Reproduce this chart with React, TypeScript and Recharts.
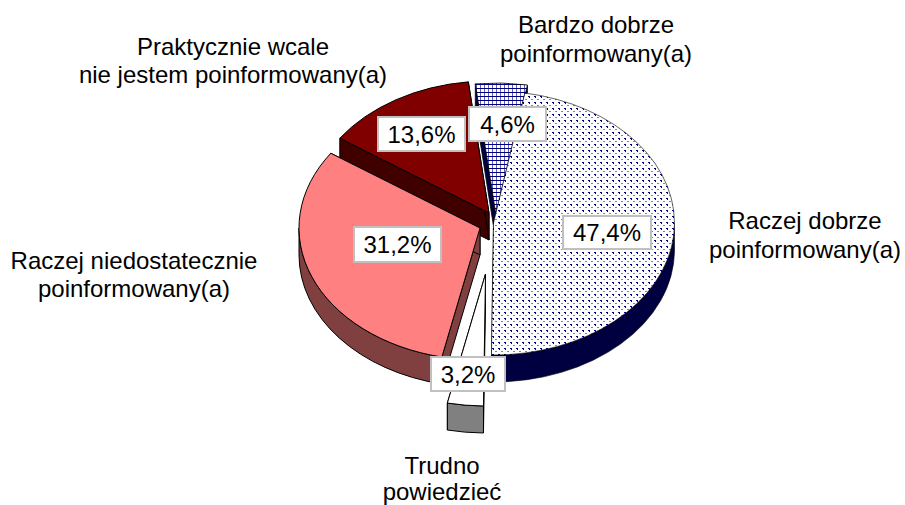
import React from "react";
import { PieChart, Pie } from "recharts";

const categories = [
  "Praktycznie wcale nie jestem poinformowany(a)",
  "Bardzo dobrze poinformowany(a)",
  "Raczej dobrze poinformowany(a)",
  "Trudno powiedzieć",
  "Raczej niedostatecznie poinformowany(a)",
];
const shares = [13.6, 4.6, 47.4, 3.2, 31.2];
const percentLabels = ["13,6%", "4,6%", "47,4%", "3,2%", "31,2%"];

const data = categories.map((name, i) => ({ name, value: shares[i], text: percentLabels[i] }));

const CX = 492;
const CY = 223;
const RX = 181;
const RY = 132;
const DEPTH = 27;
const START_DEG = 10;
const FONT = "'Liberation Sans', Arial, sans-serif";

// exploded slice offsets (px), and look, by data index
const LOOK = [
  { dx: -3, dy: -10, top: "#800000", side: "#400000", sw: 1 },
  { dx: 4, dy: -8, top: "url(#hatch)", side: "#000040", sw: 0.8 },
  { dx: 1.5, dy: 0, top: "url(#dots)", side: "#000040", sw: 0.6 },
  { dx: -6.5, dy: 51, top: "#ffffff", side: "#808080", sw: 1 },
  { dx: -12, dy: 5, top: "#ff8080", side: "#804040", sw: 1 },
];
const BOXES = [
  { x: 378, y: 117, w: 87, h: 34 },
  { x: 469, y: 107, w: 77, h: 34 },
  { x: 563, y: 216, w: 88, h: 33 },
  { x: 431, y: 357, w: 74, h: 34 },
  { x: 354, y: 227, w: 87, h: 35 },
];
const OUTER = [
  { x: 233, y: [55, 83], lines: ["Praktycznie wcale", "nie jestem poinformowany(a)"] },
  { x: 596, y: [33, 62], lines: ["Bardzo dobrze", "poinformowany(a)"] },
  { x: 805, y: [229, 258], lines: ["Raczej dobrze", "poinformowany(a)"] },
  { x: 442, y: [474, 500], lines: ["Trudno", "powiedzieć"] },
  { x: 134, y: [269, 297], lines: ["Raczej niedostatecznie", "poinformowany(a)"] },
];

const pt = (cx: number, cy: number, deg: number) => {
  const t = (deg * Math.PI) / 180;
  return [cx + RX * Math.sin(t), cy - RY * Math.cos(t)];
};

function Slice(props: any) {
  const { index, startAngle, endAngle } = props;
  const look = LOOK[index];
  const cx = CX + look.dx;
  const cy = CY + look.dy;
  // clockwise degrees from 12 o'clock
  const a1 = 90 - startAngle;
  const a2 = 90 - endAngle;
  const [x1, y1] = pt(cx, cy, a1);
  const [x2, y2] = pt(cx, cy, a2);
  const large = a2 - a1 > 180 ? 1 : 0;
  const top = `M${cx},${cy}L${x1},${y1}A${RX},${RY} 0 ${large} 1 ${x2},${y2}Z`;
  const faceA = `M${cx},${cy}L${x1},${y1}v${DEPTH}L${cx},${cy + DEPTH}Z`;
  const faceB = `M${cx},${cy}L${x2},${y2}v${DEPTH}L${cx},${cy + DEPTH}Z`;
  let wall: string | null = null;
  for (const shift of [0, 360]) {
    const w1 = Math.max(a1, 90 + shift);
    const w2 = Math.min(a2, 270 + shift);
    if (w2 > w1) {
      const [wx1, wy1] = pt(cx, cy, w1);
      const [wx2, wy2] = pt(cx, cy, w2);
      wall = `M${wx1},${wy1}A${RX},${RY} 0 0 1 ${wx2},${wy2}v${DEPTH}A${RX},${RY} 0 0 0 ${wx1},${wy1 + DEPTH}Z`;
    }
  }
  const edge = { stroke: "#000", strokeWidth: look.sw, strokeLinejoin: "round" as const };
  return (
    <g>
      {index === 0 && (
        <defs>
          <pattern id="dots" width="6" height="6" patternUnits="userSpaceOnUse">
            <rect width="6" height="6" fill="#fff" />
            <rect x="0" y="0" width="2" height="1" fill="#000080" />
            <rect x="1" y="1" width="1" height="1" fill="#000080" />
            <rect x="3" y="3" width="2" height="1" fill="#8080c0" />
          </pattern>
          <pattern id="hatch" width="4" height="4" patternUnits="userSpaceOnUse">
            <rect width="4" height="4" fill="#fff" />
            <rect x="0" y="0" width="1" height="4" fill="#6060b0" />
            <rect x="0" y="0" width="4" height="1" fill="#000080" />
          </pattern>
        </defs>
      )}
      <path d={faceA} fill={look.side} {...edge} />
      <path d={faceB} fill={look.side} {...edge} />
      {wall && <path d={wall} fill={look.side} {...edge} />}
      <path d={top} fill={look.top} {...edge} />
    </g>
  );
}

function SliceLabel(props: any) {
  const { index } = props;
  const box = BOXES[index];
  const outer = OUTER[index];
  return (
    <g>
      <rect x={box.x} y={box.y} width={box.w} height={box.h} fill="#fff" stroke="#c0c0c0" strokeWidth={2} />
      <text
        x={box.x + box.w / 2}
        y={box.y + box.h / 2 + 8.5}
        textAnchor="middle"
        fontFamily={FONT}
        fontSize={24}
        fill="#000"
      >
        {data[index].text}
      </text>
      {outer.lines.map((line, i) => (
        <text key={i} x={outer.x} y={outer.y[i]} textAnchor="middle" fontFamily={FONT} fontSize={24} fill="#000">
          {line}
        </text>
      ))}
    </g>
  );
}

export default function App() {
  const start = 90 - (START_DEG - 4.6 * 3.6 - 13.6 * 3.6);
  return (
    <div style={{ position: "absolute", left: 0, top: 0 }}>
      <PieChart width={905} height={505} margin={{ top: 0, right: 0, bottom: 0, left: 0 }}>
        <Pie
          data={data}
          dataKey="value"
          nameKey="name"
          cx={CX}
          cy={CY}
          outerRadius={RX}
          startAngle={start}
          endAngle={start - 360}
          paddingAngle={0}
          isAnimationActive={false}
          shape={Slice}
          label={SliceLabel}
          labelLine={false}
        />
      </PieChart>
    </div>
  );
}
